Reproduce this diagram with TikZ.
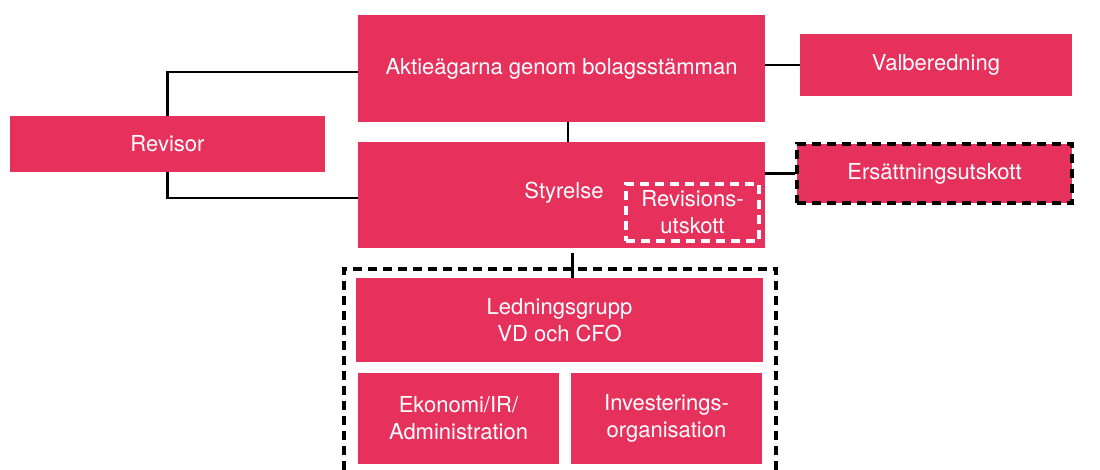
\documentclass[tikz,border=0pt]{standalone}
\usepackage{fontspec}
\setmainfont{TeX Gyre Heros}
\usepackage{tikz}
\definecolor{boxred}{RGB}{230,49,93}

\begin{document}
\begin{tikzpicture}[x=0.5pt,y=-0.5pt,
		box/.style={fill=boxred,text=white,align=center,inner sep=0pt,font=\fontsize{11}{13.5}\selectfont},
		link/.style={line width=1.2pt},
		dashbox/.style={line width=1.6pt,dash pattern=on 4.5pt off 3pt}]
				\useasboundingbox (0,0) rectangle (1100,470);
				
				\draw[dashbox] (344,470) -- (344,269) -- (776,269) -- (776,470);
				
				\node[box,minimum width=203.5pt,minimum height=53.5pt] (aktie) at (561.5,68.5) {Aktieägarna genom bolagsstämman};
				\node[box,minimum width=136pt,minimum height=31pt] (valb) at (936,65) {Valberedning};
				\node[box,minimum width=157.5pt,minimum height=28pt] (revisor) at (167.5,144) {Revisor};
				\node[box,minimum width=203.5pt,minimum height=53pt] (styrelse) at (561.5,195) {};
				\node[box] (styrtext) at (564,193) {Styrelse};
				\node[box,draw=white,dashbox,minimum width=66.5pt,minimum height=28.5pt] (revutsk) at (692.5,212.5) {Revisions-\\utskott};
				\node[box,draw=black,dashbox,minimum width=137.5pt,minimum height=29.5pt] (ersatt) at (934.5,173.5) {Ersättningsutskott};
				
				\node[box,minimum width=203.5pt,minimum height=42pt] (ledn) at (559.5,320) {Ledningsgrupp\\VD och CFO};
				\node[box,minimum width=100.5pt,minimum height=45.5pt] (ekon) at (458.5,418.5) {Ekonomi/IR/\\Administration};
				\node[box,minimum width=95.5pt,minimum height=45.5pt] (invest) at (666.5,418.5) {Investerings-\\organisation};
				
				\draw[link] ([yshift=-1.75pt]aktie.west) -| (revisor.north);
				\draw[link] ([yshift=-1.5pt]styrelse.west) -| (revisor.south);
				\draw[link] ([xshift=3.25pt]aktie.south) -- ([xshift=3.25pt]styrelse.north);
				\draw[link] (aktie.east |- valb.west) -- (valb.west);
				\draw[link] (styrelse.east |- ersatt.west) -- (ersatt.west);
				\draw[link] ([xshift=5.5pt,yshift=-2.5pt]styrelse.south) -- ([xshift=5.5pt]styrelse.south |- ledn.north);
\end{tikzpicture}
\end{document}
